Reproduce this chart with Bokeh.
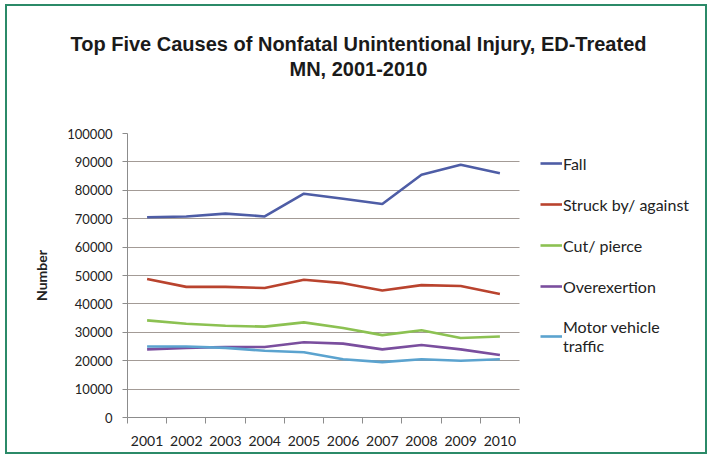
from bokeh.plotting import figure
from bokeh.models import FixedTicker, Legend, LegendItem, Title, Range1d
from bokeh.embed import file_html
from bokeh.resources import INLINE

years = ["2001", "2002", "2003", "2004", "2005", "2006", "2007", "2008", "2009", "2010"]
fall = [70500, 70800, 71800, 70800, 78800, 77000, 75200, 85500, 89000, 86000]
struck = [48800, 46000, 46000, 45600, 48500, 47300, 44700, 46600, 46300, 43500]
cut = [34200, 33000, 32300, 32000, 33500, 31500, 29000, 30700, 28000, 28500]
overexertion = [24000, 24500, 24800, 24800, 26500, 26000, 24000, 25500, 24000, 22000]
motor = [25000, 25000, 24500, 23500, 23000, 20500, 19500, 20500, 20000, 20500]

series_names = ["Fall", "Struck by/ against", "Cut/ pierce", "Overexertion", "Motor vehicle\ntraffic"]
series_values = [fall, struck, cut, overexertion, motor]
series_colors = ["#4E5DA6", "#B9432E", "#8CC152", "#7A4E9E", "#5BA3CF"]
y_ticks = [0, 10000, 20000, 30000, 40000, 50000, 60000, 70000, 80000, 90000, 100000]

xs = list(range(1, len(years) + 1))

W, H = 702, 450
LEFT, TOP, BOTTOM = 120, 127, 39
CAT_PX = 39.2  # pixel width of one category
frame_w = W - LEFT
x_end = 0.5 + frame_w / CAT_PX

p = figure(width=W, height=H, output_backend="svg", toolbar_location=None,
           x_range=Range1d(0.5, x_end), y_range=Range1d(0, 100000),
           min_border_left=LEFT, min_border_right=0, min_border_top=TOP, min_border_bottom=BOTTOM)
p.outline_line_color = None
p.background_fill_color = "white"
p.border_fill_color = "white"
p.styles = {"border": "2px solid #2B8A68", "margin-left": "5px", "margin-top": "4px"}

# titles (a blank spacer keeps the two title lines up high, as in the reference)
spacer = Title(text=" ", text_font_size="10px", text_color="white", standoff=40)
t2 = Title(text="MN, 2001-2010", align="left", offset=162, text_font="Liberation Sans",
           text_font_style="bold", text_font_size="20px", text_color="#1a1a1a", standoff=2)
t1 = Title(text="Top Five Causes of Nonfatal Unintentional Injury, ED-Treated", align="left",
           offset=-57, text_font="Liberation Sans", text_font_style="bold",
           text_font_size="20px", text_color="#1a1a1a", standoff=0)
p.add_layout(spacer, "above")
p.add_layout(t2, "above")
p.add_layout(t1, "above")

# x axis
xa = p.xaxis[0]
xa.bounds = (0.5, len(xs) + 0.5)
xa.ticker = FixedTicker(ticks=xs, minor_ticks=[x - 0.5 for x in xs] + [len(xs) + 0.5])
xa.major_label_overrides = {x: y for x, y in zip(xs, years)}
xa.major_tick_line_color = None
xa.major_tick_out = 0
xa.major_tick_in = 0
xa.minor_tick_out = 6
xa.minor_tick_in = 0
xa.minor_tick_line_color = "#8C8C8C"
xa.axis_line_color = "#8C8C8C"
xa.major_label_standoff = 12
xa.major_label_text_font = "Lato"
xa.major_label_text_font_size = "14px"
xa.major_label_text_color = "#222222"

# y axis
ya = p.yaxis[0]
ya.ticker = FixedTicker(ticks=y_ticks)
ya.major_label_overrides = {v: str(v) for v in y_ticks}
ya.major_tick_out = 5
ya.major_tick_in = 0
ya.minor_tick_line_color = None
ya.axis_line_color = "#8C8C8C"
ya.major_tick_line_color = "#8C8C8C"
ya.major_label_standoff = 10
ya.major_label_text_font = "Lato"
ya.major_label_text_font_size = "13px"
ya.major_label_text_color = "#222222"
ya.axis_label = "Number"
ya.axis_label_text_font = "Lato"
ya.axis_label_text_font_style = "bold"
ya.axis_label_text_font_size = "14px"
ya.axis_label_standoff = 14
ya.axis_label_text_color = "#222222"

p.xgrid.grid_line_color = None
p.ygrid.ticker = FixedTicker(ticks=y_ticks)
p.ygrid.cross_bounds = (0.5, len(xs) + 0.5)
p.ygrid.grid_line_color = "#A39B96"
p.ygrid.grid_line_width = 1

items = []
for name, vals, col in zip(series_names, series_values, series_colors):
    r = p.line(xs, vals, line_color=col, line_width=2.6)
    items.append(LegendItem(label=name, renderers=[r]))

legend = Legend(items=items, location=(413, 62), padding=0, margin=0, spacing=21,
                glyph_width=22, glyph_height=20, label_height=20, label_standoff=1,
                label_text_font="Lato", label_text_font_size="16px", label_text_color="#222222",
                label_text_line_height=1.3,
                border_line_color=None, background_fill_alpha=0)
p.add_layout(legend, "center")

open("out.html", "w").write(file_html(p, INLINE))
